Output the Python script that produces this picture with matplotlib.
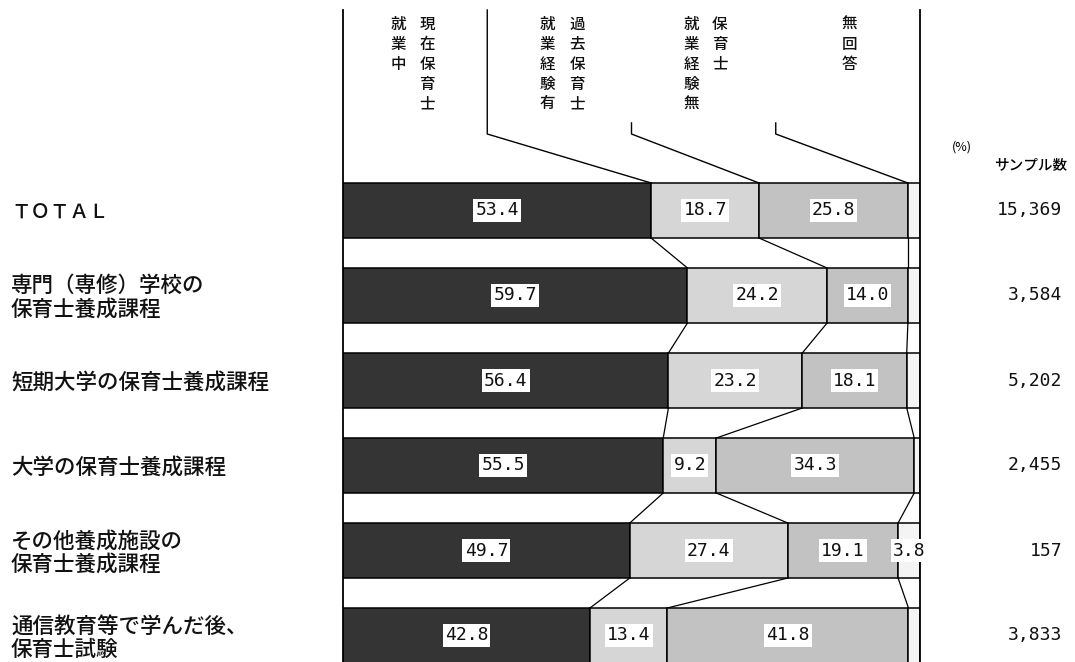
import matplotlib
matplotlib.use("Agg")
import matplotlib.pyplot as plt
import matplotlib.transforms as mtransforms
import numpy as np

plt.rcParams['font.family'] = ['Noto Sans CJK JP', 'DejaVu Sans']

categories = ["ＴＯＴＡＬ",
              "専門（専修）学校の\n保育士養成課程",
              "短期大学の保育士養成課程",
              "大学の保育士養成課程",
              "その他養成施設の\n保育士養成課程",
              "通信教育等で学んだ後、\n保育士試験"]
series_names = ["現在保育士\n就業中", "過去保育士\n就業経験有", "保育士\n就業経験無", "無回答"]
current = [53.4, 59.7, 56.4, 55.5, 49.7, 42.8]
past = [18.7, 24.2, 23.2, 9.2, 27.4, 13.4]
never = [25.8, 14.0, 18.1, 34.3, 19.1, 41.8]
no_answer = [2.1, 2.1, 2.3, 1.0, 3.8, 2.0]
samples = ["15,369", "3,584", "5,202", "2,455", "157", "3,833"]

colors = ["#343434", "#d6d6d6", "#c2c2c2", "#f4f4f4"]

W, H = 1075, 662
fig = plt.figure(figsize=(W / 100, H / 100), dpi=100)
# axes: 0..100 % maps onto pixel 343..920
ax = fig.add_axes([343 / W, 0, 577 / W, 1])
pitch = 85.0
c0 = 210.5
ax.set_xlim(0, 100)
ax.set_ylim((H - c0) / pitch, -c0 / pitch)
ax.axis("off")

data = np.array([current, past, never, no_answer]).T
n = len(categories)
ypos = np.arange(n)
h = 55 / pitch
left = np.zeros(n)
for k in range(4):
    ax.barh(ypos, data[:, k], left=left, height=h, color=colors[k],
            edgecolor="black", linewidth=1.1, zorder=2)
    for i in range(n):
        v = data[i, k]
        if v >= 3:
            ax.text(left[i] + v / 2, ypos[i], f"{v:.1f}", ha="center", va="center",
                    fontsize=13, family="DejaVu Sans Mono", color="#111111", zorder=4,
                    bbox=dict(boxstyle="square,pad=0.12", fc="white", ec="none"))
    left = left + data[:, k]

cum = np.cumsum(data, axis=1)
# connecting lines between bars
for i in range(n - 1):
    for k in range(3):
        ax.plot([cum[i, k], cum[i + 1, k]], [i + h / 2, i + 1 - h / 2],
                color="black", lw=0.9, zorder=1)

# frame lines
ytop_line = (10 - c0) / pitch
ax.plot([0, 0], [ytop_line, (H - c0) / pitch + 1], color="black", lw=1.3, clip_on=False)
ax.plot([100, 100], [ytop_line, (H - c0) / pitch + 1], color="black", lw=1.3, clip_on=False)

# header leader lines
y_bend = -0.9
ax.plot([25, 25, cum[0, 0]], [ytop_line, y_bend, -h / 2], color="black", lw=1.0)
ax.plot([50, 50, cum[0, 1]], [-1.03, y_bend, -h / 2], color="black", lw=1.0)
ax.plot([75, 75, cum[0, 2]], [-1.03, y_bend, -h / 2], color="black", lw=1.0)

# header vertical text (columns right-to-left)
header_cols = [
    (14.6, "現在保育士"), (9.6, "就業中"),
    (40.6, "過去保育士"), (35.4, "就業経験有"),
    (65.3, "保育士"), (60.3, "就業経験無"),
    (87.7, "無回答"),
]
ytext = (16 - c0) / pitch
for x, s in header_cols:
    ax.text(x, ytext, "\n".join(s), ha="center", va="top", fontsize=11.2,
            linespacing=1.22, color="#111111", weight="medium")

# left category labels
trans_l = mtransforms.blended_transform_factory(fig.transFigure, ax.transData)
for i, lab in enumerate(categories):
    ax.text(11 / W, i + 0.03, lab, transform=trans_l, ha="left", va="center",
            fontsize=15.5 if i else 14, linespacing=1.08, color="#111111",
            weight="medium")

# sample sizes
for i, s in enumerate(samples):
    ax.text(1062 / W, i, s, transform=trans_l, ha="right", va="center",
            fontsize=13, family="DejaVu Sans Mono", color="#111111")

fig.text(962 / W, 1 - 147 / H, "(%)", ha="center", va="center", fontsize=9)
fig.text(1031 / W, 1 - 165 / H, "サンプル数", ha="center", va="center", fontsize=10.5,
         weight="medium")

fig.savefig("out.png", dpi=100, facecolor="white")
